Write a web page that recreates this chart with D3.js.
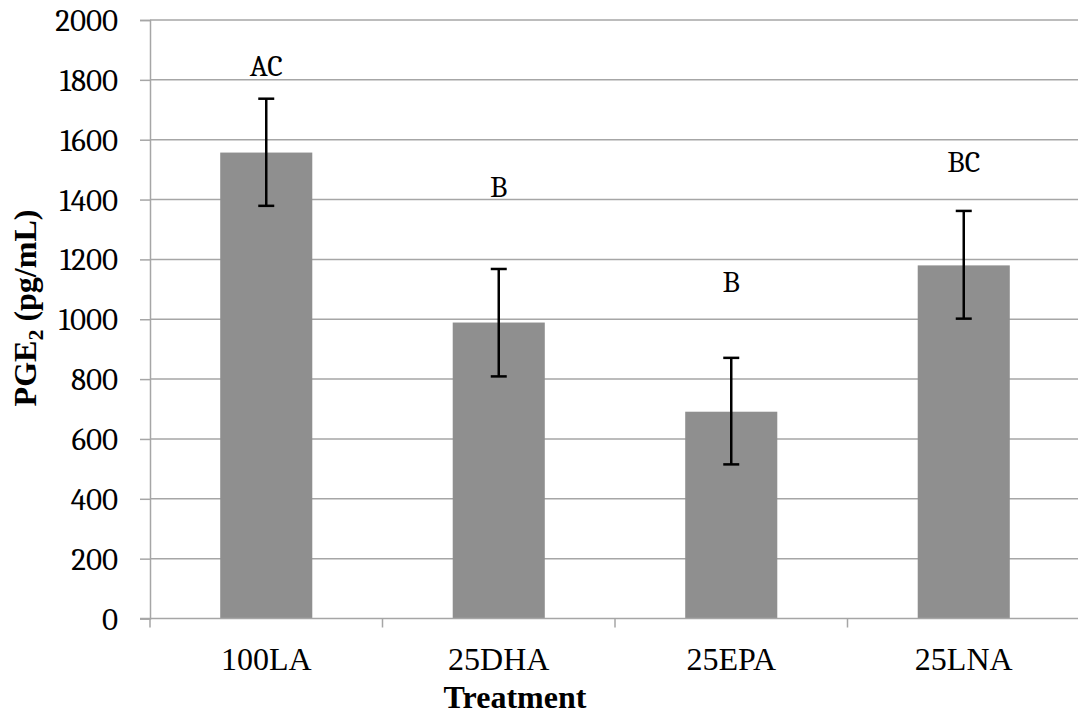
<!DOCTYPE html>
<html lang="en">
<head>
<meta charset="UTF-8">
<title>PGE2 by treatment</title>
<script src="https://cdn.jsdelivr.net/npm/d3@7"></script>
<style>
    body { margin: 0; background: #fff; }
</style>
</head>
<body>
<div id="chart"></div>
<script>
    var categories = ["100LA", "25DHA", "25EPA", "25LNA"];
    var means = [1557, 989, 691, 1180];
    var errLow = [1379, 809, 515, 1002];
    var errHigh = [1737, 1168, 871, 1362];
    var letters = ["AC", "B", "B", "BC"];
    var letterAt = [1813, 1410, 1092, 1491];   // baseline of each letter, in data units
    var yTicks = [0, 200, 400, 600, 800, 1000, 1200, 1400, 1600, 1800, 2000];

    var width = 1078, height = 725;
    // plot box (not "top": that name is taken by window.top)
    var plotL = 150, plotR = 1080, plotT = 20, plotB = 618.5;
    var times = "Liberation Serif";
    var cambria = "Caladea";

    var svg = d3.select("#chart").append("svg")
        .attr("width", width)
        .attr("height", height);

    var x = d3.scaleBand()
        .domain(categories)
        .range([plotL, plotR])
        .paddingInner(0.604)
        .paddingOuter(0.302);

    var y = d3.scaleLinear()
        .domain([0, 2000])
        .range([plotB, plotT]);

    // gridlines
    svg.append("g").selectAll("line")
        .data(yTicks.filter(function (d) { return d > 0; }))
        .enter().append("line")
        .attr("x1", plotL).attr("x2", width)
        .attr("y1", function (d) { return y(d); })
        .attr("y2", function (d) { return y(d); })
        .attr("stroke", "#a6a6a6")
        .attr("stroke-width", 1.5);

    // y axis
    var yAxis = d3.axisLeft(y)
        .tickValues(yTicks)
        .tickFormat(d3.format("d"))
        .tickSize(10)
        .tickPadding(22);
    var gy = svg.append("g")
        .attr("transform", "translate(" + plotL + ",0)")
        .call(yAxis);
    gy.attr("font-family", cambria).attr("font-size", 31);
    gy.select(".domain").attr("stroke", "#a6a6a6").attr("stroke-width", 1.5);
    gy.selectAll(".tick line").attr("stroke", "#a6a6a6").attr("stroke-width", 1.5);
    gy.selectAll(".tick text")
        .attr("fill", "#000")
        .attr("dy", "0.34em");

    // bars
    svg.append("g").selectAll("rect")
        .data(means)
        .enter().append("rect")
        .attr("x", function (d, i) { return x(categories[i]); })
        .attr("y", function (d) { return y(d); })
        .attr("width", x.bandwidth())
        .attr("height", function (d) { return y(0) - y(d); })
        .attr("fill", "#8f8f8f");

    // x axis
    var step = x.step();
    var xEdges = d3.range(categories.length + 1).map(function (i) { return plotL + i * step; });
    svg.append("line")
        .attr("x1", plotL - 10).attr("x2", width)
        .attr("y1", y(0)).attr("y2", y(0))
        .attr("stroke", "#a6a6a6").attr("stroke-width", 1.5);
    svg.append("g").selectAll("line")
        .data(xEdges)
        .enter().append("line")
        .attr("x1", function (d) { return d; })
        .attr("x2", function (d) { return d; })
        .attr("y1", y(0)).attr("y2", y(0) + 9)
        .attr("stroke", "#a6a6a6").attr("stroke-width", 1.5);

    svg.append("g")
        .attr("font-family", times)
        .attr("font-size", 32)
        .selectAll("text")
        .data(categories)
        .enter().append("text")
        .attr("x", function (d) { return x(d) + x.bandwidth() / 2; })
        .attr("y", 670)
        .attr("text-anchor", "middle")
        .text(function (d) { return d; });

    // error bars
    var eb = svg.append("g").selectAll("g")
        .data(categories)
        .enter().append("g")
        .attr("stroke", "#000")
        .attr("stroke-width", 2.5);
    eb.append("line")
        .attr("x1", function (d) { return x(d) + x.bandwidth() / 2; })
        .attr("x2", function (d) { return x(d) + x.bandwidth() / 2; })
        .attr("y1", function (d, i) { return y(errLow[i]); })
        .attr("y2", function (d, i) { return y(errHigh[i]); });
    eb.append("line")
        .attr("x1", function (d) { return x(d) + x.bandwidth() / 2 - 8; })
        .attr("x2", function (d) { return x(d) + x.bandwidth() / 2 + 8; })
        .attr("y1", function (d, i) { return y(errHigh[i]); })
        .attr("y2", function (d, i) { return y(errHigh[i]); });
    eb.append("line")
        .attr("x1", function (d) { return x(d) + x.bandwidth() / 2 - 8; })
        .attr("x2", function (d) { return x(d) + x.bandwidth() / 2 + 8; })
        .attr("y1", function (d, i) { return y(errLow[i]); })
        .attr("y2", function (d, i) { return y(errLow[i]); });

    // significance letters
    svg.append("g")
        .attr("font-family", cambria)
        .attr("font-size", 30)
        .selectAll("text")
        .data(letters)
        .enter().append("text")
        .attr("x", function (d, i) { return x(categories[i]) + x.bandwidth() / 2; })
        .attr("y", function (d, i) { return y(letterAt[i]); })
        .attr("text-anchor", "middle")
        .text(function (d) { return d; });

    // axis titles
    svg.append("text")
        .attr("x", 515)
        .attr("y", 708)
        .attr("text-anchor", "middle")
        .attr("font-family", times)
        .attr("font-size", 32)
        .attr("font-weight", "bold")
        .text("Treatment");

    var yt = svg.append("text")
        .attr("transform", "translate(36,308) rotate(-90)")
        .attr("text-anchor", "middle")
        .attr("font-family", times)
        .attr("font-size", 32)
        .attr("font-weight", "bold");
    yt.append("tspan").text("PGE");
    yt.append("tspan").attr("font-size", 22).attr("dy", 7).text("2");
    yt.append("tspan").attr("dy", -7).text(" (pg/mL)");
</script>
</body>
</html>
